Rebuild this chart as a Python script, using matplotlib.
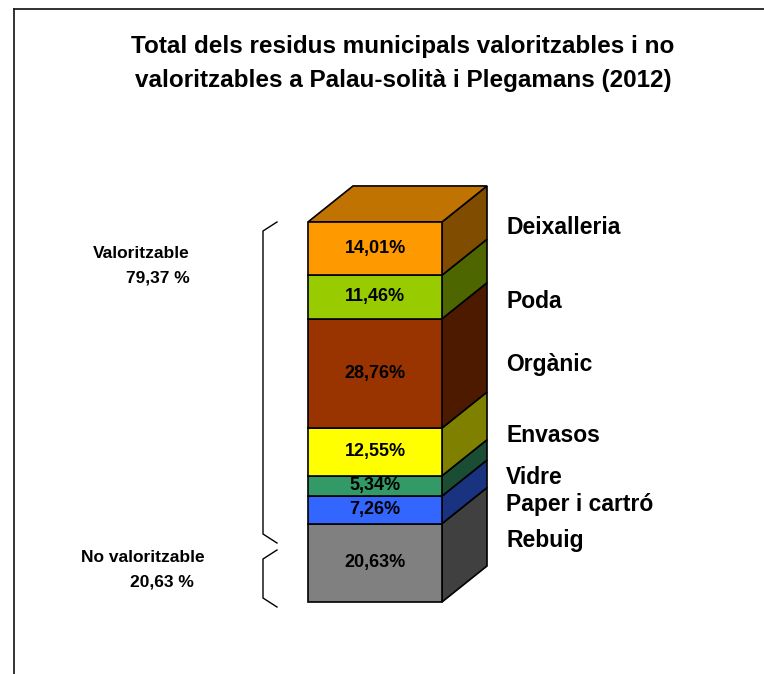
import numpy as np
import matplotlib
matplotlib.use('Agg')
import matplotlib.pyplot as plt
from matplotlib.patches import Polygon
from matplotlib.lines import Line2D

plt.rcParams['font.family'] = ['Liberation Sans', 'DejaVu Sans']

# data, from bottom of the stack to top
categories = ['Rebuig', 'Paper i cartró', 'Vidre', 'Envasos', 'Orgànic', 'Poda', 'Deixalleria']
values = [20.63, 7.26, 5.34, 12.55, 28.76, 11.46, 14.01]
value_labels = ['20,63%', '7,26%', '5,34%', '12,55%', '28,76%', '11,46%', '14,01%']
front_colors = ['#808080', '#3366FF', '#339966', '#FFFF00', '#993300', '#99CC00', '#FF9900']
side_colors = ['#404040', '#1A3380', '#1A4D33', '#808000', '#4D1A00', '#4D6600', '#804D00']
top_color = '#C07300'

group_names = ['Valoritzable', 'No valoritzable']
group_values = ['79,37 %', '20,63 %']

W, H = 764, 674
fig = plt.figure(figsize=(W / 100, H / 100), dpi=100)
ax = fig.add_axes([0, 0, 1, 1])

# bar front: x -0.5..0.5 -> px 308..442, y 0..100 -> px 602..222 (from top)
px_x = 134.0
px_y = 3.8
cx = 375.0
y0px = H - 602
ax.set_xlim(-cx / px_x, (W - cx) / px_x)
ax.set_ylim(-y0px / px_y, (H - y0px) / px_y)
ax.axis('off')

dx = 45 / px_x
dy = 36 / px_y

bottoms = np.concatenate([[0], np.cumsum(values)[:-1]])
ax.bar(0, values, bottom=bottoms, width=1.0, color=front_colors,
       edgecolor='black', linewidth=1.2, zorder=3)

for b, v, c in zip(bottoms, values, side_colors):
    side = Polygon([(0.5, b), (0.5 + dx, b + dy), (0.5 + dx, b + v + dy), (0.5, b + v)],
                   closed=True, facecolor=c, edgecolor='black', linewidth=1.2, zorder=2)
    ax.add_patch(side)

top = bottoms[-1] + values[-1]
ax.add_patch(Polygon([(-0.5, top), (-0.5 + dx, top + dy), (0.5 + dx, top + dy), (0.5, top)],
                     closed=True, facecolor=top_color, edgecolor='black', linewidth=1.2, zorder=2))

for b, v, lab in zip(bottoms, values, value_labels):
    ax.text(0, b + v / 2, lab, ha='center', va='center', fontsize=13,
            fontweight='bold', zorder=4)

# category labels on the right (pixel rows from top)
label_rows = [541, 505, 477, 435, 365, 302, 228]
for name, row in zip(categories, label_rows):
    fig.text(506 / W, 1 - row / H, name, ha='left', va='center',
             fontsize=16.5, fontweight='bold')

# title
fig.text(403 / W, 1 - 47 / H, 'Total dels residus municipals valoritzables i no',
         ha='center', va='center', fontsize=17.5, fontweight='bold')
fig.text(403 / W, 1 - 80 / H, 'valoritzables a Palau-solità i Plegamans (2012)',
         ha='center', va='center', fontsize=17.5, fontweight='bold')

# group labels
fig.text(190 / W, 1 - 253 / H, group_names[0], ha='right', va='center', fontsize=12.5, fontweight='bold')
fig.text(190 / W, 1 - 278 / H, group_values[0], ha='right', va='center', fontsize=12.5, fontweight='bold')
fig.text(205 / W, 1 - 557 / H, group_names[1], ha='right', va='center', fontsize=12.5, fontweight='bold')
fig.text(194 / W, 1 - 582 / H, group_values[1], ha='right', va='center', fontsize=12.5, fontweight='bold')

# brackets
def bracket(top_px, bot_px):
    xs = np.array([277, 263, 263, 277]) / W
    ys = 1 - np.array([top_px, top_px + 9, bot_px - 9, bot_px]) / H
    fig.add_artist(Line2D(xs, ys, color='black', linewidth=1.0))

bracket(222, 543)
bracket(550, 607)

# outer frame (top and left only visible)
fig.add_artist(Line2D([14 / W, 1.0], [1 - 9 / H, 1 - 9 / H], color='#222222', linewidth=1.3))
fig.add_artist(Line2D([14 / W, 14 / W], [0, 1 - 9 / H], color='#222222', linewidth=1.3))

fig.savefig('out.png', dpi=100, facecolor='white')
